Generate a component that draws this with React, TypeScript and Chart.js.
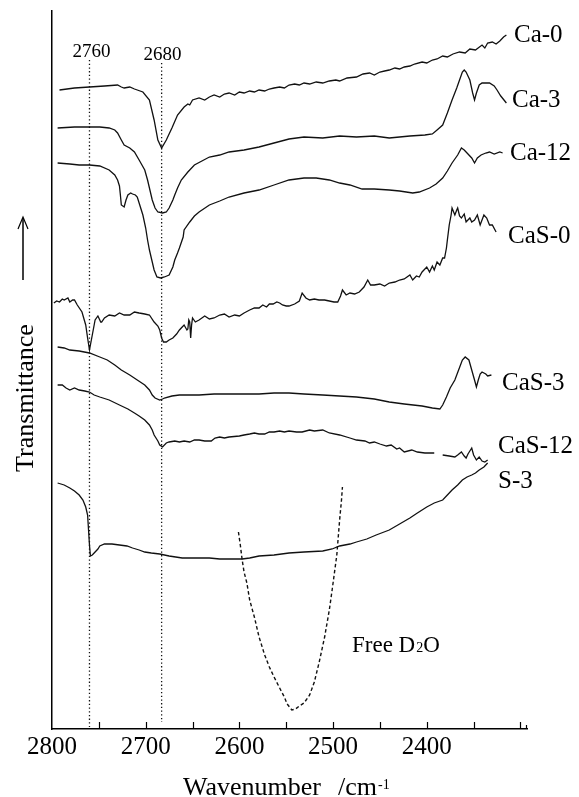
import React, { useEffect, useRef } from 'react';
import { Chart, registerables } from 'chart.js';

Chart.register(...registerables);

const SERIF = "'Liberation Serif', 'Times New Roman', serif";

// Wavenumber (cm-1) and transmittance (arbitrary, offset) for each spectrum
const ca0Wn = [2792,2776,2760,2744,2730,2726,2723,2717,2712,2703,2696,2691,2687,2683,2678,2672,2666,2659,2655,2653,2650,2643,2637,2632,2627,2621,2616,2611,2605,2600,2595,2589,2584,2579,2573,2568,2563,2557,2552,2547,2541,2536,2531,2525,2518,2511,2504,2497,2493,2485,2475,2468,2461,2456,2450,2445,2440,2434,2429,2424,2418,2413,2405,2400,2394,2389,2383,2378,2372,2365,2359,2354,2348,2341,2338,2335,2330,2326,2322,2318,2315];
const ca0T = [639,641,642,643,644,642,641,642,640,637,629,609,589,581,589,601,614,622,625,624,629,631,629,632,634,632,635,636,634,637,636,638,637,639,638,640,641,642,641,644,645,644,646,645,647,646,648,649,648,651,652,655,656,654,657,658,659,661,660,662,663,665,667,666,669,670,673,672,675,677,676,680,679,684,681,686,687,685,688,692,694];

const ca3Wn = [2794,2776,2760,2749,2739,2733,2730,2726,2723,2717,2712,2707,2701,2698,2695,2693,2690,2687,2682,2678,2675,2671,2669,2666,2662,2655,2648,2640,2632,2621,2611,2595,2579,2563,2547,2531,2511,2493,2475,2456,2440,2418,2402,2394,2389,2383,2378,2373,2368,2365,2362,2360,2358,2354,2351,2349,2347,2344,2341,2333,2328,2325,2321,2315];
const ca3T = [601,602,602,602,601,599,596,589,584,581,577,569,559,549,537,529,521,517,516,517,521,529,534,541,549,557,564,568,572,574,577,579,582,586,590,592,591,593,592,593,591,593,594,595,599,604,616,629,641,649,657,659,657,649,636,629,636,644,646,646,643,639,633,626];

const ca12Wn = [2794,2781,2771,2760,2749,2739,2733,2730,2728,2727,2726,2723,2721,2719,2716,2714,2711,2709,2707,2703,2700,2698,2696,2693,2691,2688,2684,2680,2675,2671,2669,2666,2664,2660,2659,2653,2648,2643,2632,2621,2611,2595,2579,2563,2547,2531,2518,2504,2493,2482,2469,2456,2440,2429,2415,2408,2397,2390,2383,2378,2373,2367,2363,2360,2357,2352,2349,2346,2342,2337,2333,2328,2322,2319];
const ca12T = [566,565,564,564,563,559,554,549,543,534,524,522,529,534,536,535,534,532,526,514,501,489,479,467,459,452,451,452,454,462,469,476,481,492,499,507,513,517,524,528,532,536,539,544,549,551,551,549,546,544,540,540,539,538,536,537,541,545,551,558,566,574,581,579,576,571,566,571,574,576,577,575,577,576];

const cas0Wn = [2798,2795,2792,2789,2787,2783,2781,2778,2776,2773,2768,2764,2762,2760,2758,2757,2755,2754,2751,2750,2748,2747,2744,2739,2733,2728,2723,2717,2712,2707,2701,2696,2691,2687,2685,2683,2681,2678,2675,2671,2667,2664,2661,2659,2656,2655,2654,2653,2652,2651,2650,2647,2643,2637,2632,2627,2621,2616,2611,2605,2600,2595,2589,2584,2579,2575,2571,2568,2564,2560,2557,2554,2550,2547,2541,2536,2533,2529,2525,2520,2515,2509,2504,2499,2495,2492,2490,2486,2482,2477,2472,2467,2463,2460,2456,2450,2445,2440,2434,2429,2424,2418,2415,2411,2408,2405,2400,2397,2394,2392,2389,2386,2383,2381,2379,2378,2376,2374,2373,2370,2368,2367,2365,2363,2360,2358,2354,2352,2349,2346,2343,2339,2336,2333,2330,2326];
const cas0T = [426,428,427,430,429,431,427,429,429,424,417,404,391,379,389,394,404,409,413,411,407,407,411,414,413,416,414,414,417,416,415,414,407,403,399,391,387,387,389,391,395,399,402,404,399,400,409,407,391,404,411,407,409,413,410,411,414,415,412,414,413,416,419,421,421,424,422,425,425,427,426,424,423,423,425,428,436,431,429,430,429,429,428,427,427,433,439,434,436,435,437,442,449,444,444,445,443,446,447,449,450,454,449,453,452,457,462,457,463,459,467,464,471,471,481,489,504,514,521,514,519,521,513,511,515,507,511,507,509,514,504,514,511,504,504,497];

const cas3Wn = [2794,2787,2781,2771,2760,2749,2741,2733,2726,2717,2709,2701,2696,2693,2690,2685,2682,2680,2672,2664,2653,2643,2627,2611,2595,2579,2563,2547,2531,2511,2493,2475,2456,2440,2424,2405,2394,2386,2383,2379,2375,2370,2366,2362,2359,2355,2352,2349,2347,2345,2343,2341,2337,2335,2331];
const cas3T = [382,381,379,378,376,372,369,364,359,354,349,344,339,334,331,329,330,331,333,334,334,334,335,335,335,335,336,336,335,334,333,332,330,327,325,323,321,320,324,332,341,349,359,369,372,369,359,349,342,349,355,357,355,353,354];

const cas12Wn = [2794,2789,2785,2781,2776,2771,2765,2760,2755,2749,2739,2728,2719,2712,2707,2701,2696,2693,2691,2687,2685,2682,2678,2675,2669,2664,2659,2653,2648,2643,2637,2630,2626,2621,2616,2611,2600,2595,2589,2584,2579,2573,2568,2563,2557,2552,2547,2539,2533,2525,2520,2511,2504,2493,2482,2475,2466,2461,2456,2450,2443,2438,2432,2429,2424,2416,2410,2402,2392,2389,2383,2376,2370,2367,2363,2360,2358,2356,2352,2350,2347,2344,2341,2338,2335];
const cas12T = [344,344,341,339,341,339,338,337,334,332,329,324,320,316,313,309,304,299,294,288,284,282,286,287,288,287,288,287,289,289,288,288,291,292,291,292,293,294,295,296,295,295,297,297,298,297,298,297,297,299,298,299,296,294,291,289,288,286,287,285,283,284,280,281,277,279,277,276,276,null,274,273,272,274,277,273,271,275,281,274,269,272,268,267,269];

const s3Wn = [2794,2787,2781,2776,2771,2767,2764,2762,2761,2760,2759,2757,2755,2751,2749,2744,2736,2728,2720,2714,2707,2701,2694,2685,2675,2661,2648,2632,2621,2608,2597,2589,2579,2563,2547,2531,2511,2501,2493,2482,2475,2464,2454,2440,2429,2418,2410,2400,2392,2383,2378,2373,2367,2362,2357,2352,2348,2344,2339,2335];
const s3T = [246,244,241,238,234,229,222,214,199,184,173,174,176,180,183,185,185,184,183,181,179,177,176,175,173,171,171,171,170,170,170,171,173,174,176,177,178,180,183,185,187,190,194,199,205,211,216,222,226,229,234,239,244,249,252,254,256,259,262,266];

const d2oWn = [2601,2599,2597,2595,2592,2589,2584,2579,2573,2568,2563,2557,2552,2549,2544,2540,2536,2531,2525,2520,2515,2509,2504,2501,2496,2493,2491,2490];
const d2oT = [197,184,169,157,146,129,112,92,74,62,52,41,32,25,19,20,23,26,34,47,66,92,119,139,174,209,229,242];

// Reference band markers
const markerWn = [2760, 2683];
const markerLabels = ['2760', '2680'];
const markerTop = [669, 666];
const markerBottom = [2, 7];

const seriesNames = ['Ca-0', 'Ca-3', 'Ca-12', 'CaS-0', 'CaS-3', 'CaS-12', 'S-3'];

const xTickValues = [2800, 2750, 2700, 2650, 2600, 2550, 2500, 2450, 2400, 2350, 2300];
const xTickLabels = ['2800', '', '2700', '', '2600', '', '2500', '', '2400', '', ''];

// layout (pixel) positions for annotations
const seriesLabelPos = [
  { x: 514, y: 42 },
  { x: 512, y: 107 },
  { x: 510, y: 160 },
  { x: 508, y: 243 },
  { x: 502, y: 390 },
  { x: 498, y: 453 },
  { x: 498, y: 488 },
];

const toPts = (wn: number[], t: (number | null)[]) => wn.map((x, i) => ({ x, y: t[i] }));

const annotPlugin = {
  id: 'annot',
  afterDraw(chart: any) {
    const ctx = chart.ctx as CanvasRenderingContext2D;
    const xs = chart.scales.x;
    const area = chart.chartArea;
    ctx.save();
    // inward ticks on the x axis
    ctx.strokeStyle = '#000';
    ctx.lineWidth = 1.2;
    xTickValues.forEach((v) => {
      if (v === 2800) return;
      const px = Math.round(xs.getPixelForValue(v)) + 0.5;
      ctx.beginPath();
      ctx.moveTo(px, area.bottom);
      ctx.lineTo(px, area.bottom - 7);
      ctx.stroke();
    });
    ctx.beginPath();
    ctx.moveTo(area.right - 0.5, area.bottom);
    ctx.lineTo(area.right - 0.5, area.bottom - 4);
    ctx.stroke();

    ctx.fillStyle = '#000';
    ctx.textBaseline = 'alphabetic';
    // series names
    ctx.font = `25px ${SERIF}`;
    ctx.textAlign = 'left';
    seriesNames.forEach((n, i) => ctx.fillText(n, seriesLabelPos[i].x, seriesLabelPos[i].y));

    // marker labels
    ctx.font = `19px ${SERIF}`;
    ctx.textAlign = 'center';
    ctx.fillText(markerLabels[0], xs.getPixelForValue(markerWn[0]) + 2, 57);
    ctx.fillText(markerLabels[1], xs.getPixelForValue(markerWn[1]) + 1, 60);

    // Free D2O
    ctx.textAlign = 'left';
    let fx = 352;
    const fy = 652;
    ctx.font = `23px ${SERIF}`;
    ctx.fillText('Free D', fx, fy);
    fx += ctx.measureText('Free D').width + 1;
    ctx.font = `14px ${SERIF}`;
    ctx.fillText('2', fx, fy);
    fx += ctx.measureText('2').width;
    ctx.font = `23px ${SERIF}`;
    ctx.fillText('O', fx, fy);

    // x-axis title
    ctx.font = `26px ${SERIF}`;
    ctx.fillText('Wavenumber', 183, 795);
    ctx.fillText('/cm', 338, 795);
    ctx.font = `14px ${SERIF}`;
    ctx.fillText('-1', 378, 789);

    // y-axis title + arrow
    ctx.save();
    ctx.translate(33, 398);
    ctx.rotate(-Math.PI / 2);
    ctx.font = `26px ${SERIF}`;
    ctx.textAlign = 'center';
    ctx.fillText('Transmittance', 0, 0);
    ctx.restore();

    ctx.lineWidth = 1.5;
    ctx.beginPath();
    ctx.moveTo(23, 280);
    ctx.lineTo(23, 218);
    ctx.stroke();
    ctx.lineWidth = 1.2;
    ctx.beginPath();
    ctx.moveTo(18, 229);
    ctx.lineTo(23, 217);
    ctx.lineTo(28, 229);
    ctx.stroke();
    ctx.restore();
  },
};

export default function App() {
  const ref = useRef<HTMLCanvasElement | null>(null);
  useEffect(() => {
    if (!ref.current) return;
    const solid = (data: any[]) => ({
      data,
      borderColor: '#111',
      borderWidth: 1.3,
      pointRadius: 0,
      fill: false,
      tension: 0,
      spanGaps: false,
    });
    const datasets: any[] = [
      { label: seriesNames[0], ...solid(toPts(ca0Wn, ca0T)) },
      { label: seriesNames[1], ...solid(toPts(ca3Wn, ca3T)) },
      { label: seriesNames[2], ...solid(toPts(ca12Wn, ca12T)) },
      { label: seriesNames[3], ...solid(toPts(cas0Wn, cas0T)) },
      { label: seriesNames[4], ...solid(toPts(cas3Wn, cas3T)) },
      { label: seriesNames[5], ...solid(toPts(cas12Wn, cas12T)) },
      { label: seriesNames[6], ...solid(toPts(s3Wn, s3T)) },
      {
        label: 'Free D2O',
        ...solid(toPts(d2oWn, d2oT)),
        borderWidth: 1.4,
        borderDash: [3.5, 2.5],
      },
      ...markerWn.map((w, i) => ({
        label: markerLabels[i],
        data: [{ x: w, y: markerTop[i] }, { x: w, y: markerBottom[i] }],
        borderColor: '#111',
        borderWidth: 1.3,
        borderDash: [1.3, 2.4],
        pointRadius: 0,
        fill: false,
      })),
    ];
    const chart = new Chart(ref.current, {
      type: 'line',
      data: { datasets },
      options: {
        animation: false,
        responsive: false,
        devicePixelRatio: 1,
        layout: { padding: { left: 52, top: 11, right: 52, bottom: 0 } },
        plugins: { legend: { display: false }, tooltip: { enabled: false }, title: { display: false } },
        scales: {
          x: {
            type: 'linear',
            reverse: true,
            min: 2293,
            max: 2800,
            afterBuildTicks: (s: any) => {
              s.ticks = xTickValues.map((v) => ({ value: v }));
            },
            afterFit: (s: any) => {
              s.height = 68;
            },
            grid: { display: false, drawTicks: false },
            border: { display: true, color: '#000', width: 1.5 },
            ticks: {
              autoSkip: false,
              maxRotation: 0,
              padding: 3,
              color: '#000',
              font: { family: SERIF, size: 25 },
              callback: (_v: any, i: number) => xTickLabels[i],
            },
          },
          y: {
            type: 'linear',
            min: 0,
            max: 718,
            afterFit: (s: any) => {
              s.width = 0;
            },
            grid: { display: false, drawTicks: false },
            border: { display: true, color: '#000', width: 1.5 },
            ticks: { display: false },
          },
        },
      },
      plugins: [annotPlugin],
    } as any);
    return () => chart.destroy();
  }, []);
  return (
    <div style={{ position: 'absolute', left: 0, top: 0, width: 579, height: 797, background: '#fff' }}>
      <canvas ref={ref} width={579} height={797} style={{ display: 'block', width: 579, height: 797 }} />
    </div>
  );
}
